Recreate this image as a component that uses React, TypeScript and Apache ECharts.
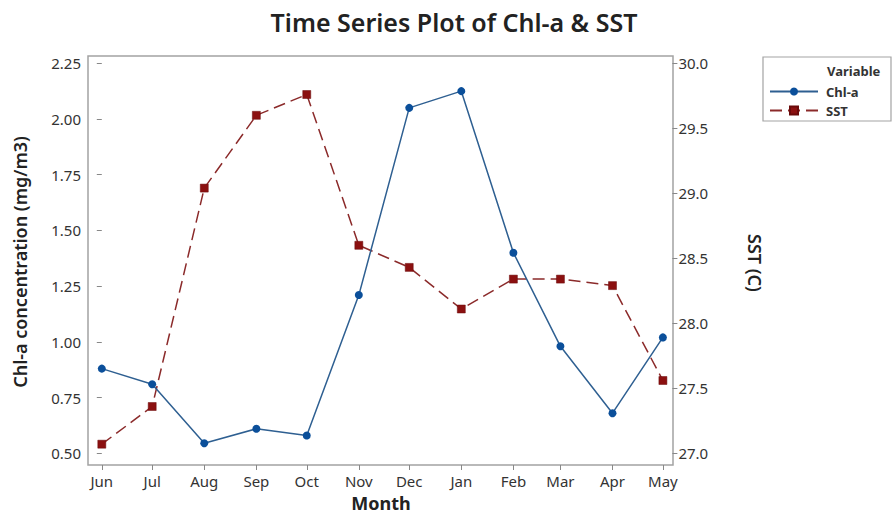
import React, { useEffect, useRef } from "react";
import * as echarts from "echarts";

// Data
const months = ["Jun", "Jul", "Aug", "Sep", "Oct", "Nov", "Dec", "Jan", "Feb", "Mar", "Apr", "May"];
const monthYears = [2021, 2021, 2021, 2021, 2021, 2021, 2021, 2022, 2022, 2022, 2022, 2022];
const monthIndex = [5, 6, 7, 8, 9, 10, 11, 0, 1, 2, 3, 4];
const chlA = [0.88, 0.81, 0.545, 0.61, 0.58, 1.21, 2.05, 2.125, 1.4, 0.98, 0.68, 1.02];
const sst = [27.07, 27.36, 29.04, 29.6, 29.76, 28.6, 28.43, 28.11, 28.34, 28.34, 28.29, 27.56];
const leftTicks = [0.5, 0.75, 1.0, 1.25, 1.5, 1.75, 2.0, 2.25];
const rightTicks = [27.0, 27.5, 28.0, 28.5, 29.0, 29.5, 30.0];

const DAY = 86400000;
const start = Date.UTC(monthYears[0], monthIndex[0], 1);
const dayOffsets = months.map((_, i) => Math.round((Date.UTC(monthYears[i], monthIndex[i], 1) - start) / DAY));

const FONT = "'Noto Sans', 'Open Sans', sans-serif";

export default function App() {
  const ref = useRef<HTMLDivElement>(null);
  useEffect(() => {
    if (!ref.current) return;
    const chart = echarts.init(ref.current, null, { renderer: "svg" });
    const labelFor = (v: number) => {
      const i = dayOffsets.indexOf(Math.round(v));
      return i >= 0 ? months[i] : "";
    };
    chart.setOption({
      animation: false,
      backgroundColor: "#ffffff",
      textStyle: { fontFamily: FONT },
      title: {
        text: "Time Series Plot of Chl-a & SST",
        left: 449,
        top: 4,
        textAlign: "center",
        textStyle: { fontFamily: FONT, fontSize: 25, fontWeight: 600, color: "#222" },
      },
      grid: { left: 101.8, right: 231.1, top: 63.3, bottom: 62.7 },
      xAxis: {
        type: "value",
        min: dayOffsets[0],
        max: dayOffsets[dayOffsets.length - 1],
        offset: 11.7,
        axisLine: { show: false },
        axisTick: { show: true, length: 5, lineStyle: { color: "#888" }, customValues: dayOffsets },
        axisLabel: {
          customValues: dayOffsets,
          formatter: (v: number) => labelFor(v),
          fontSize: 15,
          color: "#333",
          margin: 8,
          fontFamily: FONT,
        },
        splitLine: { show: false },
      },
      yAxis: [
        {
          type: "value",
          position: "left",
          min: leftTicks[0],
          max: leftTicks[leftTicks.length - 1],
          interval: 0.25,
          offset: 13.8,
          axisLine: { show: false },
          axisTick: { show: true, length: 5, lineStyle: { color: "#888" } },
          axisLabel: { formatter: (v: number) => v.toFixed(2), fontSize: 15, color: "#333", margin: 7, fontFamily: FONT },
          splitLine: { show: false },
        },
        {
          type: "value",
          position: "right",
          min: rightTicks[0],
          max: rightTicks[rightTicks.length - 1],
          interval: 0.5,
          offset: 9.5,
          axisLine: { show: false },
          axisTick: { show: true, length: 5, lineStyle: { color: "#888" } },
          axisLabel: { formatter: (v: number) => v.toFixed(1), fontSize: 15, color: "#333", margin: 6, fontFamily: FONT },
          splitLine: { show: false },
        },
      ],
      legend: {
        data: ["Chl-a", "SST"],
        orient: "vertical",
        left: 769,
        top: 85,
        padding: 0,
        itemWidth: 48,
        itemHeight: 10,
        itemGap: 6,
        textStyle: { fontSize: 13, fontWeight: "bold", color: "#333", lineHeight: 13, fontFamily: FONT, padding: [0, 0, 0, 3] },
      },
      graphic: [
        {
          type: "rect",
          z: -1,
          shape: { x: 88, y: 56, width: 585, height: 409 },
          style: { fill: "none", stroke: "#a3a3a3", lineWidth: 1.5 },
        },
        {
          type: "rect",
          shape: { x: 763, y: 57, width: 128, height: 64 },
          style: { fill: "none", stroke: "#a3a3a3", lineWidth: 1.2 },
        },
        {
          type: "text",
          x: 827,
          y: 71,
          style: { text: "Variable", font: `bold 13px ${FONT}`, fill: "#333", verticalAlign: "middle", align: "left" },
        },
        {
          type: "text",
          x: 20,
          y: 262,
          rotation: Math.PI / 2,
          style: {
            text: "Chl-a concentration (mg/m3)",
            font: `600 18px ${FONT}`,
            fill: "#222",
            align: "center",
            verticalAlign: "middle",
          },
        },
        {
          type: "text",
          x: 755,
          y: 263,
          rotation: -Math.PI / 2,
          style: { text: "SST (C)", font: `600 18px ${FONT}`, fill: "#222", align: "center", verticalAlign: "middle" },
        },
        {
          type: "text",
          x: 381,
          y: 503,
          style: { text: "Month", font: `bold 18px ${FONT}`, fill: "#222", align: "center", verticalAlign: "middle" },
        },
      ],
      series: [
        {
          name: "Chl-a",
          type: "line",
          yAxisIndex: 0,
          data: dayOffsets.map((d, i) => [d, chlA[i]]),
          symbol: "circle",
          symbolSize: 8,
          itemStyle: { color: "#0b4f9a" },
          lineStyle: { color: "#2e5f91", width: 1.5 },
          z: 3,
        },
        {
          name: "SST",
          type: "line",
          yAxisIndex: 1,
          data: dayOffsets.map((d, i) => [d, sst[i]]),
          symbol: "rect",
          symbolSize: 8,
          itemStyle: { color: "#8b1010", borderColor: "#6a0a0a", borderWidth: 0.5 },
          lineStyle: { color: "#8b2a2a", width: 1.5, type: [12, 6] },
          z: 2,
        },
      ],
    });
    return () => chart.dispose();
  }, []);
  return <div ref={ref} style={{ width: 894, height: 516, position: "absolute", left: 0, top: 0 }} />;
}
